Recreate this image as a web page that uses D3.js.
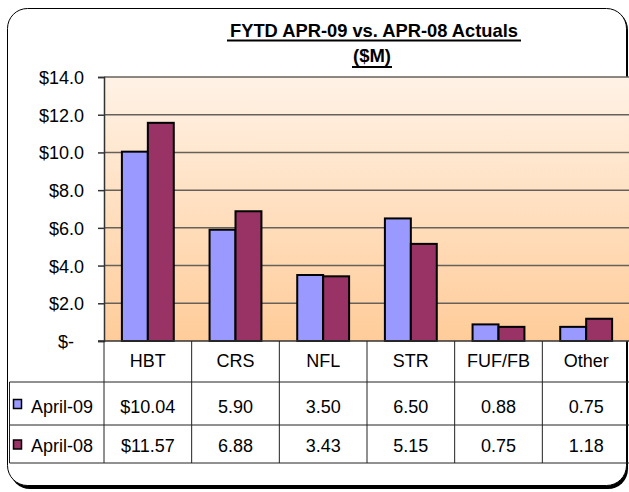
<!DOCTYPE html>
<html>
<head>
<meta charset="utf-8">
<script src="https://cdn.jsdelivr.net/npm/d3@7"></script>
<style>
  html, body { margin: 0; padding: 0; background: #fff; }
  svg { display: block; }
  text { font-family: "Liberation Sans", Arial, sans-serif; fill: #000; }
</style>
</head>
<body>
<svg id="chart" width="629" height="492"></svg>
<script>
const categories = ["HBT", "CRS", "NFL", "STR", "FUF/FB", "Other"];
const seriesNames = ["April-09", "April-08"];
const april09 = [10.04, 5.90, 3.50, 6.50, 0.88, 0.75];
const april08 = [11.57, 6.88, 3.43, 5.15, 0.75, 1.18];
const seriesColors = ["#9999FF", "#993366"];
const yTicks = [0, 2, 4, 6, 8, 10, 12, 14];
const titleLines = ["FYTD APR-09 vs. APR-08 Actuals", "($M)"];

const series = [april09, april08];
const svg = d3.select("#chart");

const L = 104, R = 630, T = 77, B = 341;
const rowLines = [382, 425, 463];
const FS = 18;

const x = d3.scaleBand().domain(categories).range([L, R]).paddingInner(0).paddingOuter(0);
const x1 = d3.scaleBand().domain(seriesNames).range([0, x.bandwidth()]).paddingInner(0).paddingOuter(0.69);
const y = d3.scaleLinear().domain([0, 14]).range([B, T]);

// frame with shadow
svg.append("rect").attr("x", 10).attr("y", 10).attr("width", 618).attr("height", 479)
  .attr("rx", 20).attr("fill", "#000");
svg.append("rect").attr("x", 7.5).attr("y", 8.5).attr("width", 619).attr("height", 477)
  .attr("rx", 20).attr("fill", "#fff").attr("stroke", "#000").attr("stroke-width", 1);

// gradient
const defs = svg.append("defs");
const grad = defs.append("linearGradient").attr("id", "bg").attr("x1", 0).attr("y1", 0).attr("x2", 0).attr("y2", 1);
grad.append("stop").attr("offset", "0%").attr("stop-color", "#FFF2E6");
grad.append("stop").attr("offset", "100%").attr("stop-color", "#FFCC99");

svg.append("rect").attr("x", L).attr("y", T).attr("width", R - L).attr("height", B - T).attr("fill", "url(#bg)");

// gridlines
svg.append("g").selectAll("line").data(yTicks.filter(d => d > 0)).join("line")
  .attr("x1", L).attr("x2", R).attr("y1", d => y(d)).attr("y2", d => y(d))
  .attr("stroke", "#66605a").attr("stroke-width", 1.5);

// y axis
const yAxis = d3.axisLeft(y).tickValues(yTicks).tickSize(6).tickPadding(14)
  .tickFormat(d => d === 0 ? "$-" : "$" + d3.format(".1f")(d));
const ya = svg.append("g").attr("transform", `translate(${L},0)`).call(yAxis);
ya.select(".domain").attr("stroke", "#333").attr("stroke-width", 1.5);
ya.selectAll(".tick line").attr("stroke", "#333").attr("stroke-width", 1.5);
ya.selectAll(".tick text").attr("font-size", FS).attr("font-family", "Liberation Sans, Arial, sans-serif")
  .attr("fill", "#000").attr("dy", "0.36em");
ya.selectAll(".tick text").filter(d => d === 0).attr("dx", -10);

// bars
const g = svg.append("g");
categories.forEach((c, i) => {
  seriesNames.forEach((s, j) => {
    const v = series[j][i];
    g.append("rect")
      .attr("x", x(c) + x1(s))
      .attr("y", y(v))
      .attr("width", x1.bandwidth())
      .attr("height", y(0) - y(v))
      .attr("fill", seriesColors[j])
      .attr("stroke", "#000").attr("stroke-width", 2);
  });
});

// x axis line
svg.append("line").attr("x1", L - 6).attr("x2", R).attr("y1", B).attr("y2", B)
  .attr("stroke", "#333").attr("stroke-width", 1.5);

// data table lines
const tbl = svg.append("g").attr("stroke", "#222").attr("stroke-width", 1);
const bounds = categories.map(c => x(c)).concat([R]);
tbl.selectAll("line.v").data(bounds).join("line")
  .attr("x1", d => d).attr("x2", d => d).attr("y1", B).attr("y2", rowLines[2]);
tbl.append("line").attr("x1", 9.5).attr("x2", 9.5).attr("y1", rowLines[0]).attr("y2", rowLines[2]);
tbl.selectAll("line.h").data(rowLines).join("line")
  .attr("x1", 9.5).attr("x2", R).attr("y1", d => d).attr("y2", d => d);

// category labels
svg.append("g").selectAll("text").data(categories).join("text")
  .attr("x", d => x(d) + x.bandwidth() / 2).attr("y", 367)
  .attr("text-anchor", "middle").attr("font-size", FS).text(d => d);

// table rows
const rowBase = [413, 452];
seriesNames.forEach((s, j) => {
  const mid = (rowLines[j] + rowLines[j + 1]) / 2;
  svg.append("rect").attr("x", 13.5).attr("y", mid - 4).attr("width", 8).attr("height", 9)
    .attr("fill", seriesColors[j]).attr("stroke", "#000").attr("stroke-width", 1.5);
  svg.append("text").attr("x", 31).attr("y", rowBase[j]).attr("font-size", FS).text(s);
  svg.append("g").selectAll("text").data(series[j]).join("text")
    .attr("x", (d, i) => x(categories[i]) + x.bandwidth() / 2).attr("y", rowBase[j])
    .attr("text-anchor", "middle").attr("font-size", FS)
    .text((d, i) => (i === 0 ? "$" : "") + d3.format(".2f")(d));
});

// title
const tcx = 374;
svg.append("text").attr("x", tcx).attr("y", 36.5).attr("text-anchor", "middle")
  .attr("font-size", 18.5).attr("font-weight", "bold")
  .attr("textLength", 288).attr("lengthAdjust", "spacingAndGlyphs").text(titleLines[0]);
svg.append("line").attr("x1", tcx - 147).attr("x2", tcx + 147).attr("y1", 40.5).attr("y2", 40.5)
  .attr("stroke", "#000").attr("stroke-width", 2);
svg.append("text").attr("x", 372).attr("y", 62).attr("text-anchor", "middle")
  .attr("font-size", 18.5).attr("font-weight", "bold")
  .attr("textLength", 38).attr("lengthAdjust", "spacingAndGlyphs").text(titleLines[1]);
svg.append("line").attr("x1", 352).attr("x2", 392).attr("y1", 67).attr("y2", 67)
  .attr("stroke", "#000").attr("stroke-width", 2);
</script>
</body>
</html>
